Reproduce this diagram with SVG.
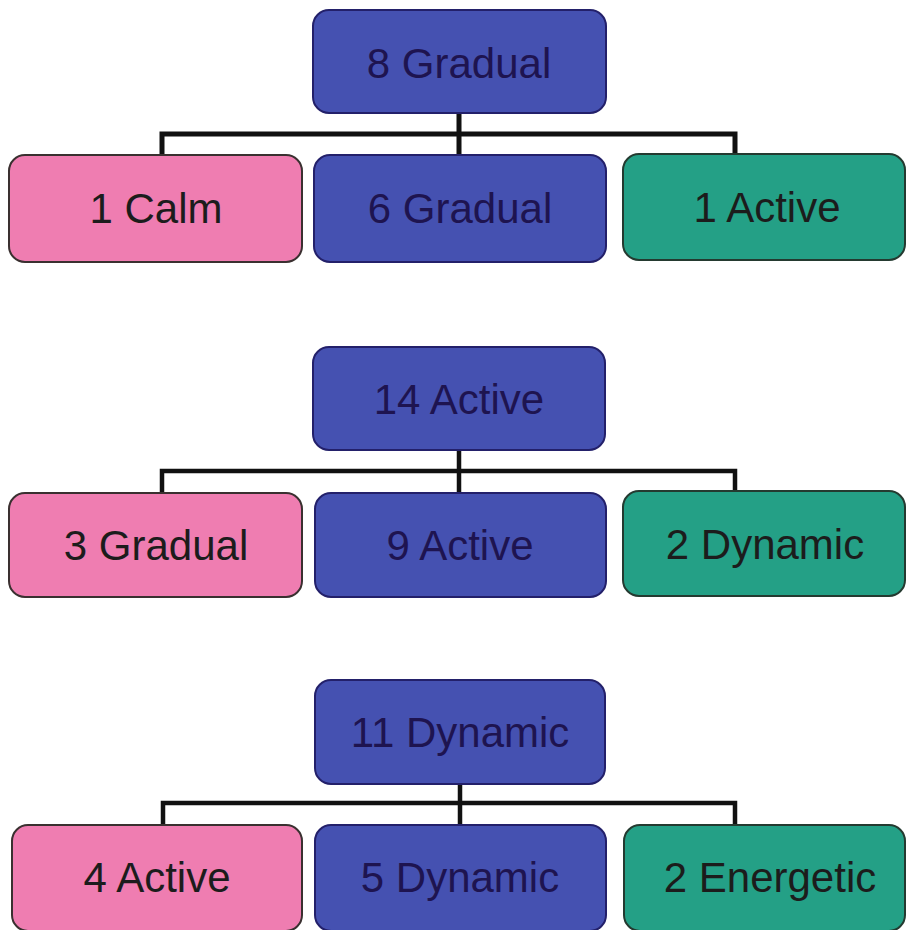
<svg xmlns="http://www.w3.org/2000/svg" width="906" height="930" viewBox="0 0 906 930">
<style>
.box{stroke-width:2}
.blue{fill:#4551B1;stroke:#23206A}
.pink{fill:#EF7DB1;stroke:#3A3030}
.green{fill:#24A086;stroke:#243A30}
text{font-family:"Liberation Sans",Arial,sans-serif;font-size:42px;text-anchor:middle}
.tb{fill:#1E1450}
.td{fill:#1C1C1C}
.con{stroke:#111;fill:none;stroke-width:5;stroke-linecap:square}
</style>
<rect width="906" height="930" fill="#fff"/>
<g id="connectors">
<path class="con" d="M459 113V155M162 155V134H735V155"/>
<path class="con" d="M459 450V493M162 493V471H735V493" style="stroke-width:4.5"/>
<path class="con" d="M460 784V825M163 825V803H735V825" style="stroke-width:4.5"/>
</g>
<g id="n8gradual"><rect class="box blue" x="313" y="10" width="293" height="103" rx="16"/><text class="tb" x="459" y="78">8 Gradual</text></g>
<g id="n1calm"><rect class="box pink" x="9" y="155" width="293" height="107" rx="16"/><text class="td" x="156" y="223">1 Calm</text></g>
<g id="n6gradual"><rect class="box blue" x="314" y="155" width="292" height="107" rx="16"/><text class="tb" x="460" y="223">6 Gradual</text></g>
<g id="n1active"><rect class="box green" x="623" y="154" width="282" height="106" rx="16"/><text class="td" x="767" y="222">1 Active</text></g>

<g id="n14active"><rect class="box blue" x="313" y="347" width="292" height="103" rx="16"/><text class="tb" x="459" y="414">14 Active</text></g>
<g id="n3gradual"><rect class="box pink" x="9" y="493" width="293" height="104" rx="16"/><text class="td" x="156" y="560">3 Gradual</text></g>
<g id="n9active"><rect class="box blue" x="315" y="493" width="291" height="104" rx="16"/><text class="tb" x="460" y="560">9 Active</text></g>
<g id="n2dynamic"><rect class="box green" x="623" y="491" width="282" height="105" rx="16"/><text class="td" x="765" y="559">2 Dynamic</text></g>

<g id="n11dynamic"><rect class="box blue" x="315" y="680" width="290" height="104" rx="16"/><text class="tb" x="460" y="747">11 Dynamic</text></g>
<g id="n4active"><rect class="box pink" x="12" y="825" width="290" height="106" rx="16"/><text class="td" x="157" y="892">4 Active</text></g>
<g id="n5dynamic"><rect class="box blue" x="315" y="825" width="291" height="106" rx="16"/><text class="tb" x="460" y="892">5 Dynamic</text></g>
<g id="n2energetic"><rect class="box green" x="624" y="825" width="281" height="106" rx="16"/><text class="td" x="770" y="892">2 Energetic</text></g>
</svg>
